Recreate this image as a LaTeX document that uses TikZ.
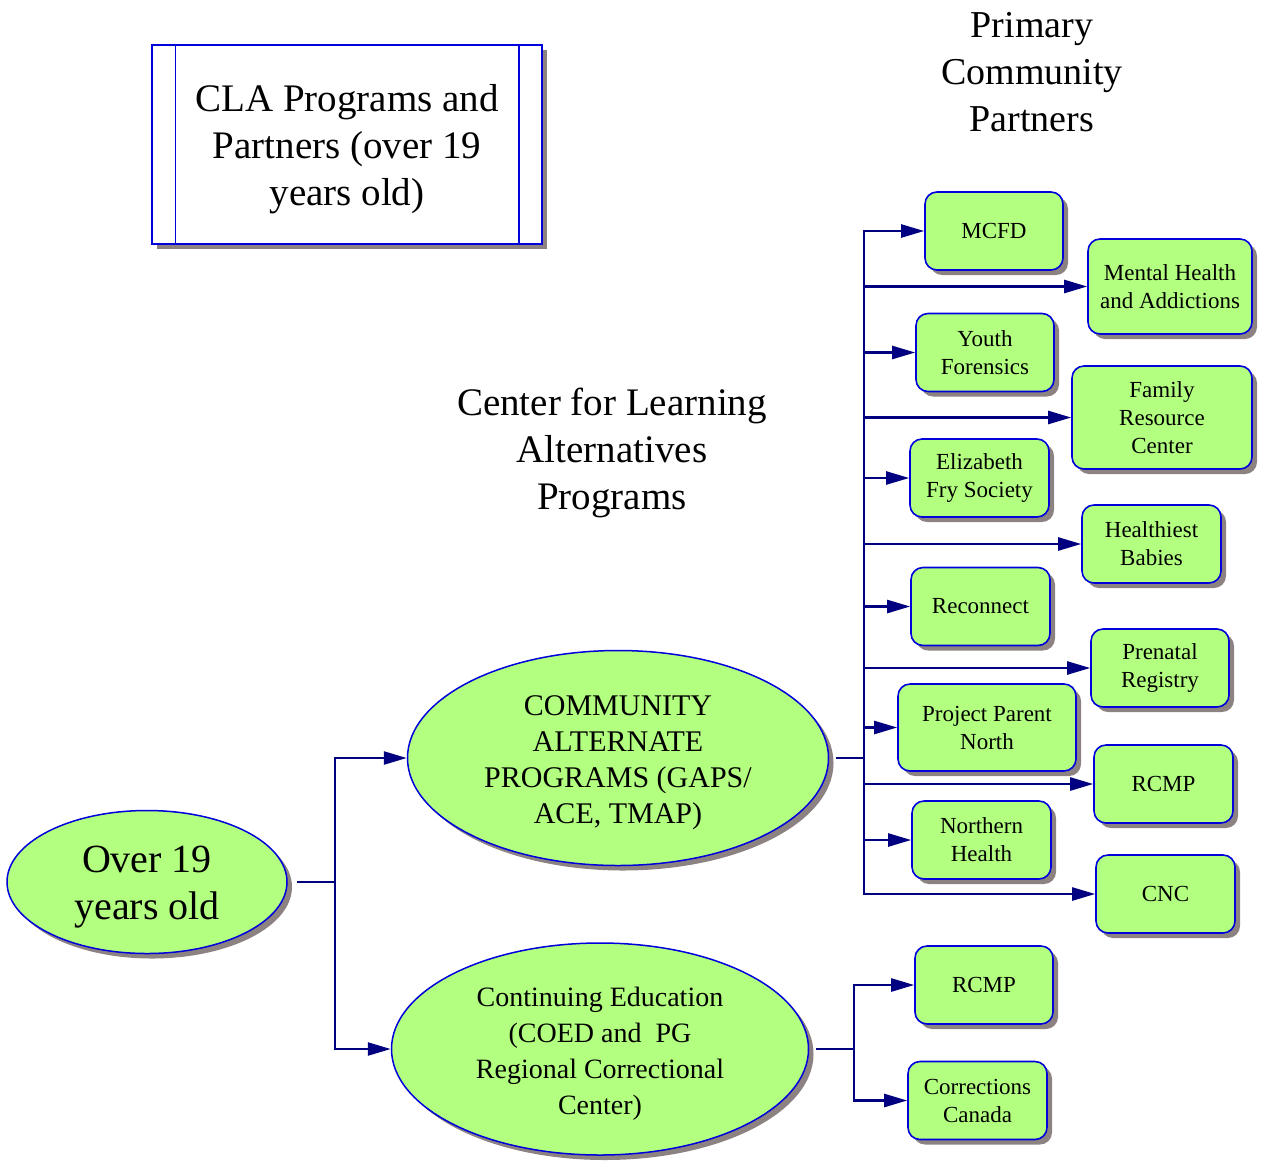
\documentclass[tikz,border=0pt]{standalone}
\usepackage{fontspec}
\setmainfont{Liberation Serif}
\usetikzlibrary{arrows.meta,shapes.geometric,shadows,positioning}
\definecolor{leaf}{RGB}{179,255,128}
\definecolor{rim}{RGB}{0,0,220}
\definecolor{wire}{RGB}{0,0,128}
\definecolor{shadecol}{RGB}{140,130,130}

\begin{document}
\begin{tikzpicture}[x=1pt,y=-1pt,inner sep=0pt]
  \tikzstyle{shade}=[drop shadow={shadow xshift=5pt,shadow yshift=-5pt,fill=shadecol,opacity=1}]
  \tikzstyle{program}=[ellipse,draw=rim,line width=1.5pt,fill=leaf,shade,align=center]
  \tikzstyle{partner}=[rectangle,rounded corners=12pt,draw=rim,line width=1.6pt,fill=leaf,shade,
    align=center,minimum width=139pt,minimum height=78pt,font=\fontsize{23}{28}\selectfont]
  \tikzstyle{feed}=[draw=wire,line width=2.4pt]
  \tikzstyle{feedto}=[feed,-{Triangle[length=23pt,width=13pt]}]
  \useasboundingbox (0,0) rectangle (1265,1160);

  % headings
  \node[draw=rim,line width=1.5pt,fill=white,shade,minimum width=390pt,minimum height=199pt,
    align=center,font=\fontsize{39}{47}\selectfont] (title) at (347,144.5)
    {\rule{0pt}{36pt}CLA Programs and\\Partners (over 19\\years old)};
  \draw[rim,line width=1.5pt] ([xshift=24pt]title.north west) -- ([xshift=24pt]title.south west);
  \draw[rim,line width=1.5pt] ([xshift=-24pt]title.north east) -- ([xshift=-24pt]title.south east);

  \node[align=center,font=\fontsize{38}{47}\selectfont] (parthead) at (1032,72) {Primary\\Community\\Partners};
  \node[align=center,font=\fontsize{39}{47}\selectfont] (proghead) at (612,453) {Center for Learning\\Alternatives\\Programs};

  % programs
  \node[program,minimum width=280pt,minimum height=143pt,font=\fontsize{40}{47}\selectfont]
    (over) at (147,882) {\rule{0pt}{36pt}Over 19\\years old};
  \node[program,minimum width=421pt,minimum height=215pt,font=\fontsize{30}{36}\selectfont]
    (cap) at (618,758) {\rule{0pt}{30pt}COMMUNITY\\ALTERNATE\\PROGRAMS (GAPS/\\ACE, TMAP)};
  \node[program,minimum width=417pt,minimum height=212pt,font=\fontsize{28}{36}\selectfont]
    (coed) at (600,1049) {\rule{0pt}{29pt}Continuing Education\\(COED and~ PG\\Regional Correctional\\Center)};

  % partners
  \node[partner,minimum width=138pt]                    (mcfd) at (994,231)    {MCFD};
  \node[partner,minimum width=164pt,minimum height=95pt] (mha) at (1170,286.5) {Mental Health\\and Addictions};
  \node[partner,minimum width=138pt]                    (yf)   at (985,352.5)  {Youth\\Forensics};
  \node[partner,minimum width=180pt,minimum height=103pt] (frc) at (1162,417.5) {Family\\Resource\\Center};
  \node[partner]                                        (efs)  at (979.5,478)  {Elizabeth\\Fry Society};
  \node[partner]                                        (hb)   at (1151.5,544) {Healthiest\\Babies};
  \node[partner]                                        (rec)  at (980.5,606.5) {Reconnect};
  \node[partner,minimum width=138pt]                    (pr)   at (1160,668)   {Prenatal\\Registry};
  \node[partner,minimum width=178pt,minimum height=87pt] (ppn) at (987,727.5)  {Project Parent\\North};
  \node[partner]                                        (rcmp) at (1163.5,784) {RCMP};
  \node[partner]                                        (nh)   at (981.5,840)  {Northern\\Health};
  \node[partner]                                        (cnc)  at (1165.5,894) {CNC};
  \node[partner,minimum width=138pt]                    (rcmpb) at (984,985)   {RCMP};
  \node[partner]                                        (cc)   at (977.5,1100.5) {Corrections\\Canada};

  % connectors
  \coordinate (fork) at (335,882);
  \draw[feed] ([xshift=9pt]over.east) -- (fork);
  \draw[feedto] (fork) |- (cap.west);
  \draw[feedto] (fork) |- (coed.west);

  \coordinate (busA) at (864,758);
  \draw[feed] ([xshift=7pt]cap.east) -- (busA);
  \foreach \p in {mcfd,mha,yf,frc,efs,hb,rec,pr,ppn,rcmp,nh,cnc}
    \draw[feedto] (busA) |- (\p.west);

  \coordinate (busB) at (854,1049);
  \draw[feed] ([xshift=7pt]coed.east) -- (busB);
  \foreach \p in {rcmpb,cc}
    \draw[feedto] (busB) |- (\p.west);
\end{tikzpicture}
\end{document}
